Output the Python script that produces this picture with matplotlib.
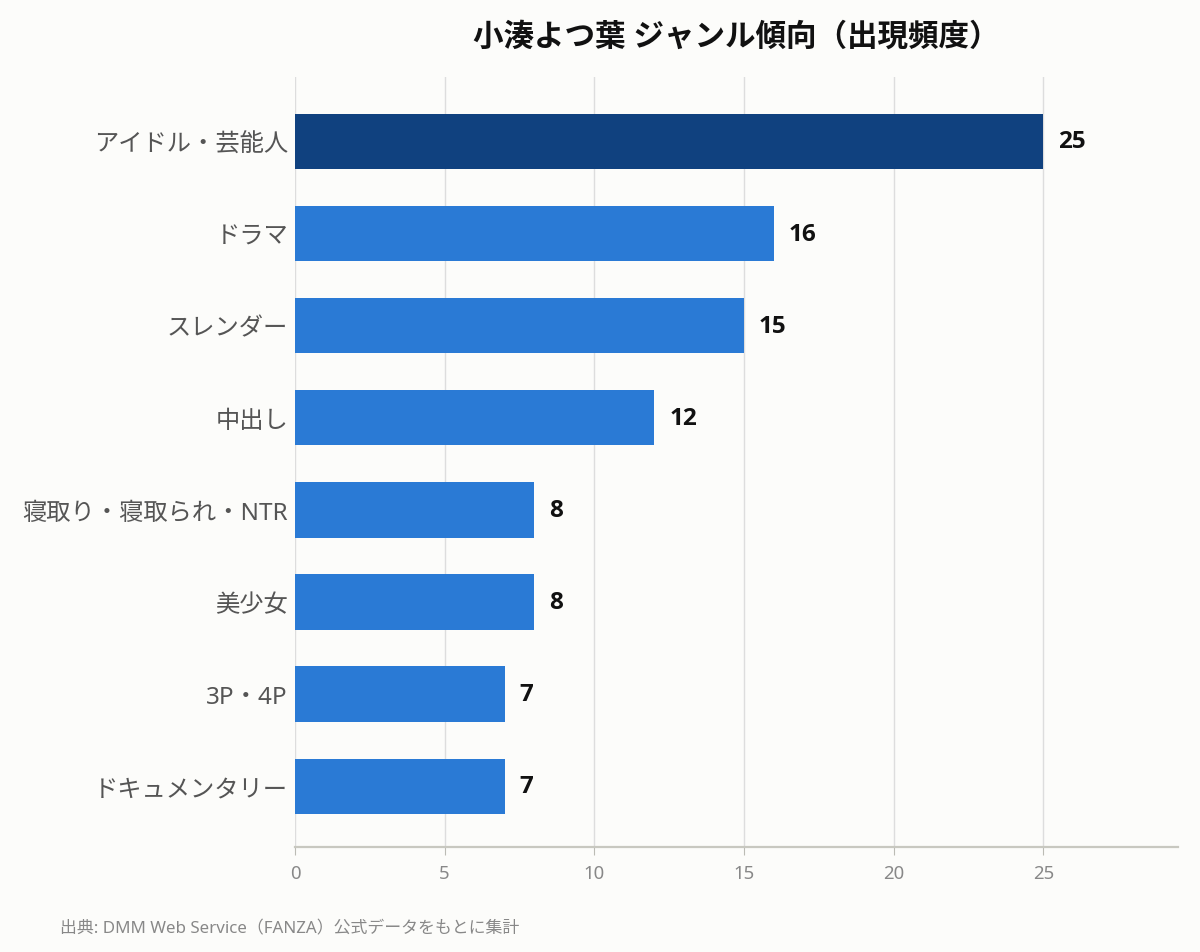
import matplotlib
matplotlib.use("Agg")
import matplotlib.pyplot as plt

plt.rcParams['font.family'] = ['Noto Sans', 'Noto Sans CJK JP', 'DejaVu Sans']

genres = ["アイドル・芸能人", "ドラマ", "スレンダー", "中出し",
          "寝取り・寝取られ・NTR", "美少女", "3P・4P", "ドキュメンタリー"]
counts = [25, 16, 15, 12, 8, 8, 7, 7]
xticks = [0, 5, 10, 15, 20, 25]

BG = "#FCFCFA"
TOP_COLOR = "#10417F"
BAR_COLOR = "#2A7AD5"

fig = plt.figure(figsize=(12, 9.53), dpi=100, facecolor=BG)
ax = fig.add_axes([295 / 1200, 1 - 848 / 953, (1178 - 295) / 1200, (848 - 78) / 953])
ax.set_facecolor(BG)

colors = [TOP_COLOR if i == 0 else BAR_COLOR for i in range(len(counts))]
pos = list(range(len(genres)))
ax.barh(pos, counts, height=0.6, color=colors, zorder=3)

for p, c in zip(pos, counts):
    ax.text(c + 0.5, p, str(c), va="center", ha="left",
            fontsize=17.5, fontweight="bold", color="#111111", zorder=4,
            family=["Open Sans", "DejaVu Sans"])

ax.set_xlim(0, 29.5)
ax.set_ylim(len(genres) - 1 + 0.66, -0.70)
ax.set_yticks(pos)
ax.set_yticklabels(genres, fontsize=17.5, color="#555555")
ax.set_xticks(xticks)
ax.set_xticklabels([str(t) for t in xticks], fontsize=13.4, color="#888888")

ax.grid(axis="x", color="#DDDDDD", linewidth=1, zorder=0)
for s in ["top", "right", "left"]:
    ax.spines[s].set_visible(False)
ax.spines["bottom"].set_color("#C8C8C0")
ax.spines["bottom"].set_linewidth(1.6)
ax.tick_params(axis="y", length=0, pad=5)
ax.tick_params(axis="x", length=6, color="#BBBBB4", pad=6)

fig.text(736 / 1200, 1 - 38 / 953, "小湊よつ葉 ジャンル傾向（出現頻度）",
         ha="center", va="center", fontsize=22, fontweight="bold", color="#111111")
fig.text(60 / 1200, 1 - 929 / 953, "出典: DMM Web Service（FANZA）公式データをもとに集計",
         ha="left", va="center", fontsize=12.2, color="#888888")

fig.savefig("out.png", dpi=100, facecolor=BG)
